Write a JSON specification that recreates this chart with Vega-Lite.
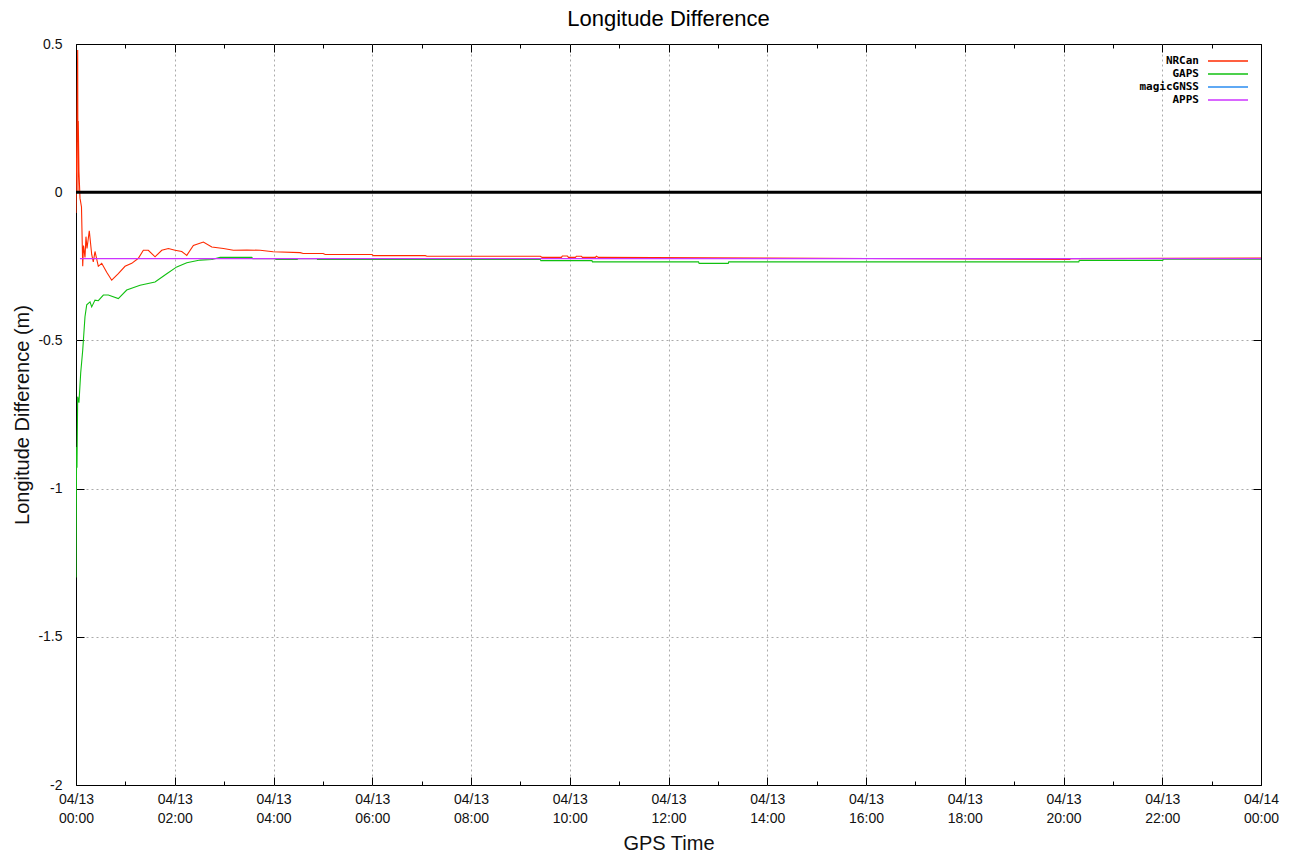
{
  "$schema": "https://vega.github.io/schema/vega-lite/v6.json",
  "width": 1185,
  "height": 741,
  "autosize": {"type": "none"},
  "padding": {"left": 76, "top": 44, "right": 31, "bottom": 74},
  "background": "white",
  "title": {"text": "Longitude Difference", "font": "Liberation Sans", "fontSize": 22, "fontWeight": "normal", "color": "black", "offset": 6},
  "config": {
    "view": {"stroke": "black", "strokeWidth": 1},
    "axis": {
      "labelFont": "Liberation Sans",
      "labelFontSize": 14,
      "labelColor": "#111111",
      "titleFont": "Liberation Sans",
      "titleFontSize": 20,
      "titleFontWeight": "normal",
      "titleColor": "#111111",
      "domain": false,
      "tickColor": "black",
      "gridColor": "#aaaaaa",
      "gridDash": [2, 3],
      "gridWidth": 1
    }
  },
  "resolve": {"axis": {"x": "independent", "y": "independent"}},
  "layer": [
    {
      "data": {
        "values": [
          {"series": "GAPS", "h": 0.000, "v": -1.30},
          {"series": "GAPS", "h": 0.012, "v": -0.86},
          {"series": "GAPS", "h": 0.020, "v": -0.93},
          {"series": "GAPS", "h": 0.034, "v": -0.69},
          {"series": "GAPS", "h": 0.060, "v": -0.71},
          {"series": "GAPS", "h": 0.095, "v": -0.61},
          {"series": "GAPS", "h": 0.136, "v": -0.533},
          {"series": "GAPS", "h": 0.182, "v": -0.42},
          {"series": "GAPS", "h": 0.217, "v": -0.38},
          {"series": "GAPS", "h": 0.284, "v": -0.37},
          {"series": "GAPS", "h": 0.318, "v": -0.387},
          {"series": "GAPS", "h": 0.385, "v": -0.364},
          {"series": "GAPS", "h": 0.452, "v": -0.366},
          {"series": "GAPS", "h": 0.554, "v": -0.347},
          {"series": "GAPS", "h": 0.655, "v": -0.347},
          {"series": "GAPS", "h": 0.857, "v": -0.359},
          {"series": "GAPS", "h": 1.027, "v": -0.33},
          {"series": "GAPS", "h": 1.297, "v": -0.314},
          {"series": "GAPS", "h": 1.601, "v": -0.303},
          {"series": "GAPS", "h": 1.838, "v": -0.275},
          {"series": "GAPS", "h": 2.041, "v": -0.252},
          {"series": "GAPS", "h": 2.244, "v": -0.238},
          {"series": "GAPS", "h": 2.513, "v": -0.229},
          {"series": "GAPS", "h": 2.750, "v": -0.227},
          {"series": "GAPS", "h": 2.919, "v": -0.220},
          {"series": "GAPS", "h": 3.560, "v": -0.220},
          {"series": "GAPS", "h": 3.580, "v": -0.224},
          {"series": "GAPS", "h": 4.030, "v": -0.224},
          {"series": "GAPS", "h": 4.050, "v": -0.227},
          {"series": "GAPS", "h": 4.480, "v": -0.227},
          {"series": "GAPS", "h": 4.500, "v": -0.224},
          {"series": "GAPS", "h": 4.880, "v": -0.224},
          {"series": "GAPS", "h": 4.890, "v": -0.227},
          {"series": "GAPS", "h": 9.405, "v": -0.227},
          {"series": "GAPS", "h": 9.415, "v": -0.231},
          {"series": "GAPS", "h": 10.45, "v": -0.231},
          {"series": "GAPS", "h": 10.46, "v": -0.235},
          {"series": "GAPS", "h": 12.608, "v": -0.235},
          {"series": "GAPS", "h": 12.62, "v": -0.240},
          {"series": "GAPS", "h": 13.21, "v": -0.240},
          {"series": "GAPS", "h": 13.22, "v": -0.235},
          {"series": "GAPS", "h": 20.31, "v": -0.235},
          {"series": "GAPS", "h": 20.32, "v": -0.230},
          {"series": "GAPS", "h": 22.01, "v": -0.230},
          {"series": "GAPS", "h": 22.02, "v": -0.226},
          {"series": "GAPS", "h": 24.00, "v": -0.226},
          {"series": "NRCan", "h": 0.000, "v": -0.07},
          {"series": "NRCan", "h": 0.012, "v": 0.12},
          {"series": "NRCan", "h": 0.034, "v": 0.48},
          {"series": "NRCan", "h": 0.040, "v": 0.0},
          {"series": "NRCan", "h": 0.046, "v": 0.24},
          {"series": "NRCan", "h": 0.060, "v": 0.07},
          {"series": "NRCan", "h": 0.081, "v": -0.02},
          {"series": "NRCan", "h": 0.111, "v": -0.05},
          {"series": "NRCan", "h": 0.136, "v": -0.25},
          {"series": "NRCan", "h": 0.152, "v": -0.18},
          {"series": "NRCan", "h": 0.182, "v": -0.22},
          {"series": "NRCan", "h": 0.202, "v": -0.15},
          {"series": "NRCan", "h": 0.223, "v": -0.19},
          {"series": "NRCan", "h": 0.269, "v": -0.13},
          {"series": "NRCan", "h": 0.318, "v": -0.21},
          {"series": "NRCan", "h": 0.350, "v": -0.235},
          {"series": "NRCan", "h": 0.385, "v": -0.20},
          {"series": "NRCan", "h": 0.452, "v": -0.25},
          {"series": "NRCan", "h": 0.521, "v": -0.24},
          {"series": "NRCan", "h": 0.622, "v": -0.27},
          {"series": "NRCan", "h": 0.723, "v": -0.297},
          {"series": "NRCan", "h": 0.857, "v": -0.275},
          {"series": "NRCan", "h": 0.993, "v": -0.25},
          {"series": "NRCan", "h": 1.129, "v": -0.24},
          {"series": "NRCan", "h": 1.263, "v": -0.223},
          {"series": "NRCan", "h": 1.364, "v": -0.196},
          {"series": "NRCan", "h": 1.465, "v": -0.196},
          {"series": "NRCan", "h": 1.601, "v": -0.218},
          {"series": "NRCan", "h": 1.737, "v": -0.196},
          {"series": "NRCan", "h": 1.871, "v": -0.19},
          {"series": "NRCan", "h": 2.006, "v": -0.196},
          {"series": "NRCan", "h": 2.142, "v": -0.20},
          {"series": "NRCan", "h": 2.244, "v": -0.213},
          {"series": "NRCan", "h": 2.377, "v": -0.18},
          {"series": "NRCan", "h": 2.580, "v": -0.168},
          {"series": "NRCan", "h": 2.750, "v": -0.185},
          {"series": "NRCan", "h": 2.986, "v": -0.19},
          {"series": "NRCan", "h": 3.188, "v": -0.196},
          {"series": "NRCan", "h": 3.460, "v": -0.195},
          {"series": "NRCan", "h": 3.729, "v": -0.196},
          {"series": "NRCan", "h": 3.993, "v": -0.201},
          {"series": "NRCan", "h": 4.540, "v": -0.204},
          {"series": "NRCan", "h": 4.601, "v": -0.207},
          {"series": "NRCan", "h": 5.006, "v": -0.207},
          {"series": "NRCan", "h": 5.047, "v": -0.21},
          {"series": "NRCan", "h": 5.994, "v": -0.21},
          {"series": "NRCan", "h": 6.026, "v": -0.214},
          {"series": "NRCan", "h": 7.074, "v": -0.214},
          {"series": "NRCan", "h": 7.108, "v": -0.216},
          {"series": "NRCan", "h": 9.405, "v": -0.216},
          {"series": "NRCan", "h": 9.440, "v": -0.22},
          {"series": "NRCan", "h": 9.831, "v": -0.22},
          {"series": "NRCan", "h": 9.851, "v": -0.215},
          {"series": "NRCan", "h": 9.952, "v": -0.215},
          {"series": "NRCan", "h": 9.973, "v": -0.22},
          {"series": "NRCan", "h": 10.115, "v": -0.22},
          {"series": "NRCan", "h": 10.135, "v": -0.216},
          {"series": "NRCan", "h": 10.236, "v": -0.216},
          {"series": "NRCan", "h": 10.256, "v": -0.22},
          {"series": "NRCan", "h": 10.520, "v": -0.22},
          {"series": "NRCan", "h": 10.540, "v": -0.216},
          {"series": "NRCan", "h": 10.581, "v": -0.22},
          {"series": "NRCan", "h": 14.006, "v": -0.222},
          {"series": "NRCan", "h": 20.128, "v": -0.227},
          {"series": "NRCan", "h": 20.148, "v": -0.224},
          {"series": "NRCan", "h": 24.0, "v": -0.222},
          {"series": "APPS", "h": 0.08, "v": -0.224},
          {"series": "APPS", "h": 24.0, "v": -0.224}
        ]
      },
      "mark": {"type": "line", "strokeWidth": 1.1, "clip": true},
      "encoding": {
        "x": {
          "field": "h",
          "type": "quantitative",
          "title": "GPS Time",
          "scale": {"domain": [0, 24], "nice": false, "zero": false},
          "axis": {
            "orient": "bottom",
            "values": [0, 1, 2, 3, 4, 5, 6, 7, 8, 9, 10, 11, 12, 13, 14, 15, 16, 17, 18, 19, 20, 21, 22, 23, 24],
            "labelExpr": "datum.value % 2 == 1 ? '' : (datum.value < 24 ? ['04/13', (datum.value < 10 ? '0' : '') + datum.value + ':00'] : ['04/14', '00:00'])",
            "tickSize": {"condition": {"test": "datum.value % 2 == 1", "value": -4}, "value": -8},
            "grid": true,
            "gridOpacity": {"condition": {"test": "datum.value % 2 == 1 || datum.value == 0 || datum.value == 24", "value": 0}, "value": 1},
            "labelLineHeight": 19,
            "labelPadding": 15,
            "labelFlush": false,
            "labelOverlap": false,
            "titlePadding": 8
          }
        },
        "y": {
          "field": "v",
          "type": "quantitative",
          "title": "Longitude Difference (m)",
          "scale": {"domain": [-2, 0.5], "nice": false, "zero": false},
          "axis": {
            "orient": "left",
            "values": [-2, -1.5, -1, -0.5, 0, 0.5],
            "labelExpr": "datum.value == 0 ? '0' : '' + datum.value",
            "tickSize": -8,
            "grid": true,
            "gridOpacity": {"condition": {"test": "datum.value == 0.5 || datum.value == -2", "value": 0}, "value": 1},
            "labelPadding": 22,
            "titlePadding": 5
          }
        },
        "color": {
          "field": "series",
          "type": "nominal",
          "sort": ["NRCan", "GAPS", "magicGNSS", "APPS"],
          "scale": {
            "domain": ["NRCan", "GAPS", "magicGNSS", "APPS"],
            "range": ["#ff2a00", "#10c010", "#2a8cf0", "#cc33ff"]
          },
          "legend": {
            "title": null,
            "orient": "none",
            "legendX": 1146,
            "legendY": 11,
            "symbolType": "M-4,0L4,0",
            "symbolSize": 100,
            "symbolStrokeWidth": 1.5,
            "labelFont": "DejaVu Sans Mono",
            "labelFontWeight": "bold",
            "labelFontSize": 11,
            "labelColor": "black",
            "rowPadding": 2,
            "labelLimit": 200,
            "encode": {
              "labels": {"update": {"align": {"value": "right"}, "x": {"value": -23}}}
            }
          }
        }
      }
    },
    {
      "data": {"values": [{"h": 0, "h2": 24, "v": 0}]},
      "mark": {"type": "rule", "color": "black", "strokeWidth": 3},
      "encoding": {
        "x": {
          "field": "h",
          "type": "quantitative",
          "axis": {
            "orient": "top",
            "title": null,
            "values": [0, 1, 2, 3, 4, 5, 6, 7, 8, 9, 10, 11, 12, 13, 14, 15, 16, 17, 18, 19, 20, 21, 22, 23, 24],
            "labels": false,
            "grid": false,
            "tickSize": {"condition": {"test": "datum.value % 2 == 1", "value": -4}, "value": -8}
          }
        },
        "x2": {"field": "h2"},
        "y": {
          "field": "v",
          "type": "quantitative",
          "axis": {
            "orient": "right",
            "title": null,
            "values": [-2, -1.5, -1, -0.5, 0, 0.5],
            "labels": false,
            "grid": false,
            "tickSize": -8
          }
        }
      }
    }
  ]
}
